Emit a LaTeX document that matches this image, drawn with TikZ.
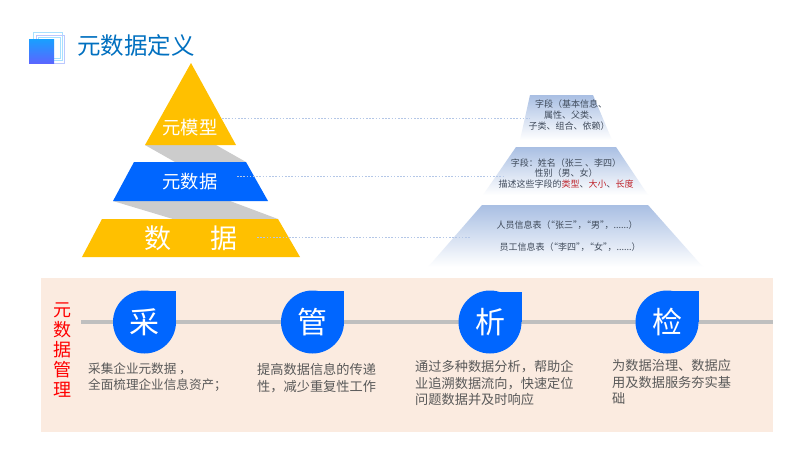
\documentclass[tikz,border=0pt]{standalone}
\usepackage{fontspec}
\setmainfont{Noto Sans CJK SC}
\definecolor{gold}{HTML}{FFC000}
\definecolor{royal}{HTML}{0066FF}
\definecolor{shadowgray}{HTML}{CCCCCC}
\definecolor{panel}{HTML}{FBEBE0}
\definecolor{railgray}{HTML}{BFBFBF}
\definecolor{bodytext}{HTML}{595959}
\definecolor{darktext}{HTML}{3F4A5A}
\definecolor{titleblue}{HTML}{0070C0}
\definecolor{leader}{HTML}{B4C7E7}
\definecolor{pyrtop}{HTML}{A9BFE3}
\definecolor{iconTop}{HTML}{18A0FF}
\definecolor{iconBot}{HTML}{5A66FF}
\definecolor{frameA}{HTML}{A8E0FF}
\definecolor{frameB}{HTML}{BCC8FF}
\definecolor{redword}{HTML}{C0272D}
\newcommand{\fsz}[1]{\fontsize{#1}{#1}\selectfont}
\newcommand{\lqm}{\makebox[4.5pt][r]{“}}
\newcommand{\rqm}{\makebox[4.5pt][l]{”}}
\tikzset{
  x=1pt,y=-1pt,
  pyrlabel/.style={text=white,inner sep=0pt},
  droplabel/.style={circle,fill=royal,text=white,minimum size=63pt,inner sep=0pt,font=\fsz{30}},
  desc/.style={anchor=west,align=left,inner sep=0pt,text=bodytext},
  smalltext/.style={align=center,inner sep=0pt,text=darktext,font=\fsz{9}},
  fadepyr/.style={top color=pyrtop,bottom color=white,draw=none},
  leaderline/.style={draw=leader,dash pattern=on 1.6pt off 1.6pt,line width=0.6pt},
}
\begin{document}
\begin{tikzpicture}
\useasboundingbox (0,0) rectangle (800,450);
\fill[white] (0,0) rectangle (800,450);
% title icon
\draw[draw=frameA,line width=0.9pt] (33,32) rectangle (62,60);
\draw[draw=frameB,line width=0.8pt] (36,35) rectangle (64,63);
\draw[draw=frameA,line width=0.7pt] (38,37) rectangle (60,58);
\shade[top color=iconTop,bottom color=iconBot] (29,39) rectangle (54,63);
\node[anchor=west,inner sep=0pt,text=titleblue,font=\fsz{23.5}] (title) at (77,46) {元数据定义};
% left pyramid
\fill[shadowgray] (145,145) -- (216,145) -- (246,162) -- (175,162) -- cycle;
\fill[shadowgray] (113,201) -- (230,201) -- (278,219) -- (173,219) -- cycle;
\fill[gold] (191,63) -- (236,145) -- (145,145) -- cycle;
\fill[royal] (134,162) -- (246,162) -- (268,201) -- (113,201) -- cycle;
\fill[gold] (102,219) -- (278,219) -- (300,257) -- (82,257) -- cycle;
\node[pyrlabel,font=\fsz{18.3}] (lmodel) at (190,128) {元模型};
\node[pyrlabel,font=\fsz{18.3}] (lmeta) at (190,182) {元数据};
\node[pyrlabel,font=\fsz{27}] (ldata) at (191,238) {数\hspace*{40pt}据};
% right pyramid
\shade[fadepyr] (530,95) -- (593,95) -- (612,140) -- (520,140) -- cycle;
\shade[fadepyr] (516,147) -- (616,147) -- (648,195) -- (483,195) -- cycle;
\shade[fadepyr] (482,205) -- (648,205) -- (703,267) -- (428,267) -- cycle;
% leader lines
\coordinate (a1) at (222,118); \coordinate (b1) at (530,118);
\coordinate (a2) at (237,176); \coordinate (b2) at (505,176);
\coordinate (a3) at (257,237); \coordinate (b3) at (470,237);
\draw[leaderline] (a1) -- (b1);
\draw[leaderline] (a2) -- (b2);
\draw[leaderline] (a3) -- (b3);
% right texts
\node[smalltext] (r1a) at (571,104) {字段（基本信息、};
\node[smalltext] (r1b) at (571,115) {属性、父类、};
\node[smalltext] (r1c) at (569,126) {子类、组合、依赖）};
\node[smalltext] (r2a) at (566,163) {字段：姓名（张三 、李四）};
\node[smalltext] (r2b) at (566,173) {性别（男、女）};
\node[smalltext] (r2c) at (566,184) {描述这些字段的\textcolor{redword}{类型}、\textcolor{redword}{大小}、\textcolor{redword}{长度}};
\node[smalltext] (r3a) at (567,225) {人员信息表（\lqm 张三\rqm，\lqm 男\rqm，......）};
\node[smalltext] (r3b) at (570,247) {员工信息表（\lqm 李四\rqm，\lqm 女\rqm，......）};
% panel
\fill[panel] (41,278) rectangle (773,432);
\coordinate (railL) at (81,322); \coordinate (railR) at (773,322);
\draw[railgray,line width=3.5pt] (railL) -- (railR);
\node[inner sep=0pt,align=center,text=red,font=\fsz{18}] (side) at (62,350) {元\\[2pt]数\\[2pt]据\\[2pt]管\\[2pt]理};
% drops
\fill[royal] (144.5,291) rectangle (176,322);
\fill[royal] (312.5,291) rectangle (344,322);
\fill[royal] (490,292) rectangle (522,322);
\fill[royal] (667,291) rectangle (699,322);
\node[droplabel] (d1) at (144.5,322) {采};
\node[droplabel] (d2) at (312.5,322) {管};
\node[droplabel] (d3) at (490,322) {析};
\node[droplabel] (d4) at (667,322) {检};
% descriptions
\node[desc,font=\fontsize{12.6}{16.5}\selectfont] (t1) at (88,377) {采集企业元数据 ，\\全面梳理企业信息资产；};
\node[desc,font=\fontsize{13.2}{16.5}\selectfont] (t2) at (257,378) {提高数据信息的传递\\性，减少重复性工作};
\node[desc,font=\fontsize{13.2}{16.2}\selectfont] (t3) at (415,383) {通过多种数据分析，帮助企\\业追溯数据流向，快速定位\\问题数据并及时响应};
\node[desc,font=\fontsize{13.2}{16.5}\selectfont] (t4) at (612,382) {为数据治理、数据应\\用及数据服务夯实基\\础};
\end{tikzpicture}
\end{document}
